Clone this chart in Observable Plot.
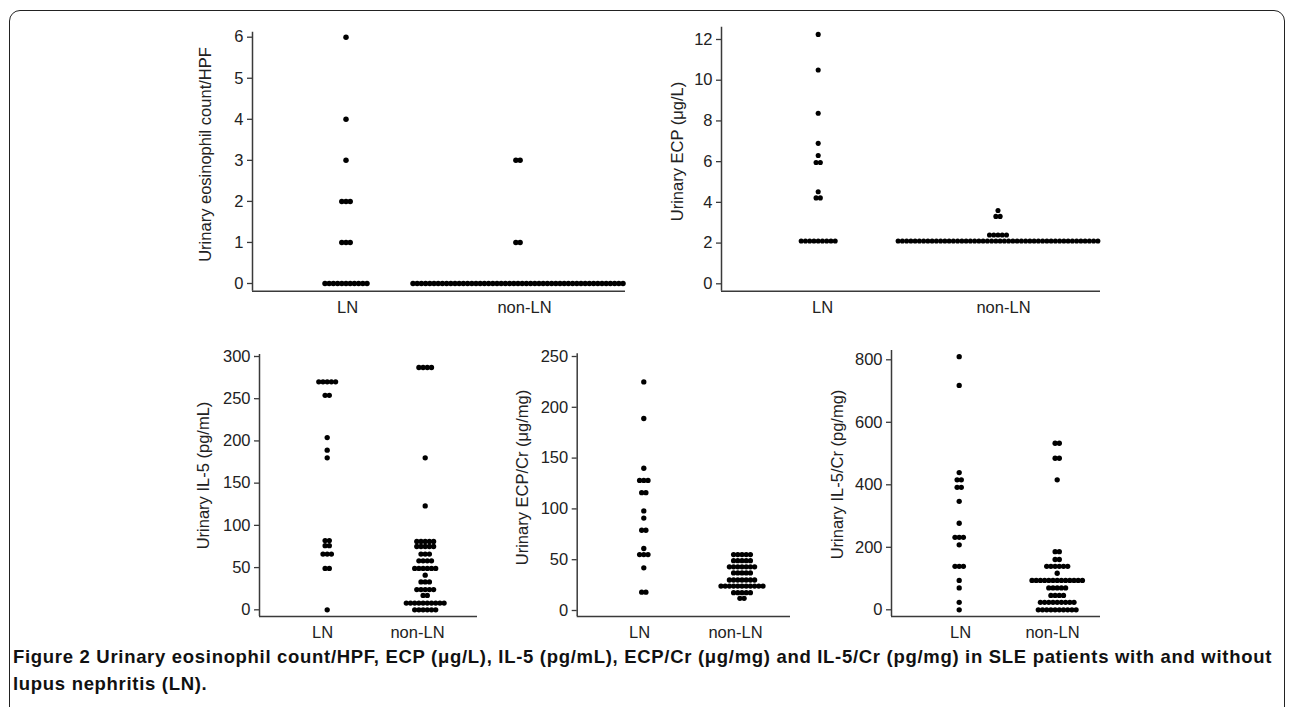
<!DOCTYPE html>
<html><head><meta charset="utf-8">
<script src="https://cdn.jsdelivr.net/npm/d3@7"></script>
<script src="https://cdn.jsdelivr.net/npm/@observablehq/plot@0.6"></script>
<style>
body{margin:0;background:#fff;}
#wrap{position:relative;width:1292px;height:707px;overflow:hidden;font-family:"Liberation Sans",Arial,sans-serif;}
#border{position:absolute;left:9px;top:10px;width:1276px;height:730px;border:1.6px solid #222;border-radius:11px;box-sizing:border-box;}
.panel{position:absolute;}
.panel svg{overflow:visible;}
#caption{position:absolute;left:13px;top:643px;font-weight:bold;font-size:18.5px;line-height:27px;color:#111;white-space:nowrap;}
</style></head><body>
<div id="wrap">
<div id="border"></div>
<div id="p1" class="panel"></div>
<div id="p2" class="panel"></div>
<div id="p3" class="panel"></div>
<div id="p4" class="panel"></div>
<div id="p5" class="panel"></div>
<div id="caption"><span id="cap1">Figure 2 Urinary eosinophil count/HPF, ECP (μg/L), IL-5 (pg/mL), ECP/Cr (μg/mg) and IL-5/Cr (pg/mg) in SLE patients with and without</span><br><span id="cap2">lupus nephritis (LN).</span></div>
</div>
<script>
// ---- Data (values and number of patients at each value) ----
const groups = ["LN", "non-LN"];

// Urinary eosinophil count/HPF
const eosLNValues  = [6, 4, 3, 2, 1, 0];
const eosLNCounts  = [1, 1, 1, 3, 3, 11];
const eosNonValues = [3, 1, 0];
const eosNonCounts = [2, 2, 51];
const eosTicks = [0, 1, 2, 3, 4, 5, 6];

// Urinary ECP (μg/L)
const ecpLNValues  = [12.25, 10.5, 8.38, 6.9, 6.3, 5.96, 4.52, 4.22, 2.1];
const ecpLNCounts  = [1, 1, 1, 1, 1, 2, 1, 2, 9];
const ecpNonValues = [3.6, 3.31, 2.4, 2.1];
const ecpNonCounts = [1, 2, 5, 48];
const ecpTicks = [0, 2, 4, 6, 8, 10, 12];

// Urinary IL-5 (pg/mL)
const il5LNValues  = [270, 254, 204, 189, 180, 82, 76, 66, 49, 0];
const il5LNCounts  = [5, 2, 1, 1, 1, 2, 2, 3, 2, 1];
const il5NonValues = [287, 180, 123, 81, 75, 66, 58, 49, 41, 33, 24, 17, 8, 0];
const il5NonCounts = [4, 1, 1, 5, 5, 3, 4, 6, 1, 3, 5, 2, 10, 6];
const il5Ticks = [0, 50, 100, 150, 200, 250, 300];

// Urinary ECP/Cr (μg/mg)
const ecpCrLNValues  = [225, 189, 140, 128, 116, 98, 91, 79, 61, 55, 42, 18];
const ecpCrLNCounts  = [1, 1, 1, 3, 2, 1, 1, 2, 1, 3, 1, 2];
const ecpCrNonValues = [55, 49, 43, 37, 30, 24, 17.5, 12];
const ecpCrNonCounts = [5, 5, 7, 5, 7, 11, 5, 2];
const ecpCrTicks = [0, 50, 100, 150, 200, 250];

// Urinary IL-5/Cr (pg/mg)
const il5CrLNValues  = [810, 718, 439, 416, 392, 347, 277, 232, 208, 139, 94, 70, 24, 0];
const il5CrLNCounts  = [1, 1, 1, 2, 2, 1, 1, 3, 1, 3, 1, 1, 1, 1];
const il5CrNonValues = [533, 485, 416, 186, 161, 139, 117, 94, 70, 46, 24, 0];
const il5CrNonCounts = [2, 2, 1, 2, 2, 6, 1, 13, 5, 4, 9, 10];
const il5CrTicks = [0, 200, 400, 600, 800];

// ---- Layout (page pixel geometry of each panel) ----
const panels = [
  {id:"p1", left:150, top:20, width:490, height:310, frame:{left:252, top:31.7, bottom:290.7, right:625},
   zeroPx:283, topTickPx:36.7, ticks:eosTicks, label:"Urinary eosinophil count/HPF",
   centers:[345.5, 517.5], labelPos:[347, 524], step:4.2, r:2.75, labelX:205, labelY:154,
   data:[[eosLNValues, eosLNCounts],[eosNonValues, eosNonCounts]]},
  {id:"p2", left:640, top:20, width:470, height:310, frame:{left:721, top:26.7, bottom:290.7, right:1100},
   zeroPx:283.3, topTickPx:39, ticks:ecpTicks, label:"Urinary ECP (μg/L)",
   centers:[817.7, 997.5], labelPos:[822, 1003], step:4.25, r:2.55, labelX:677, labelY:151,
   data:[[ecpLNValues, ecpLNCounts],[ecpNonValues, ecpNonCounts]]},
  {id:"p3", left:150, top:340, width:340, height:310, frame:{left:259, top:354, bottom:616, right:477},
   zeroPx:609.3, topTickPx:356, ticks:il5Ticks, label:"Urinary IL-5 (pg/mL)",
   centers:[326.7, 424.7], labelPos:[322, 417], step:4.2, r:2.65, labelX:203.5, labelY:475,
   data:[[il5LNValues, il5LNCounts],[il5NonValues, il5NonCounts]]},
  {id:"p4", left:490, top:340, width:310, height:310, frame:{left:576.7, top:353.3, bottom:616, right:790},
   zeroPx:610, topTickPx:356, ticks:ecpCrTicks, label:"Urinary ECP/Cr (μg/mg)",
   centers:[643.3, 741.5], labelPos:[639, 735], step:4.2, r:2.65, labelX:522, labelY:477,
   data:[[ecpCrLNValues, ecpCrLNCounts],[ecpCrNonValues, ecpCrNonCounts]]},
  {id:"p5", left:800, top:340, width:310, height:310, frame:{left:891, top:350, bottom:616, right:1100},
   zeroPx:609.3, topTickPx:359.3, ticks:il5CrTicks, label:"Urinary IL-5/Cr (pg/mg)",
   centers:[958.7, 1056.7], labelPos:[960, 1052], step:4.2, r:2.65, labelX:837, labelY:474,
   data:[[il5CrLNValues, il5CrLNCounts],[il5CrNonValues, il5CrNonCounts]]}
];

const axisColor = "#3a3a3a";
const textColor = "#222";
const fontSize = 16.5;

for (const p of panels) {
  const f = p.frame;
  const topTick = p.ticks[p.ticks.length - 1];
  const k = (p.zeroPx - p.topTickPx) / topTick;
  const yMin = -(f.bottom - p.zeroPx) / k;
  const yMax = topTick + (p.topTickPx - f.top) / k;
  const W = f.right - f.left;
  // dot-plot layout: dots sharing a value sit in a centred row
  const points = [];
  p.data.forEach(([vals, counts], g) => {
    const c = p.centers[g] - f.left;
    vals.forEach((v, i) => {
      const n = counts[i];
      for (let j = 0; j < n; j++) points.push({group: groups[g], y: v, x: c + (j - (n - 1) / 2) * p.step});
    });
  });
  const lab = new Map(p.labelPos.map((d, i) => [d - f.left, groups[i]]));
  const chart = Plot.plot({
    width: p.width, height: p.height,
    marginLeft: f.left - p.left, marginRight: p.left + p.width - f.right,
    marginTop: f.top - p.top, marginBottom: p.top + p.height - f.bottom,
    style: {background: "transparent", color: textColor, fontFamily: '"Liberation Sans", Arial, sans-serif', fontSize: fontSize + "px", overflow: "visible"},
    x: {domain: [0, W]},
    y: {domain: [yMin, yMax]},
    marks: [
      Plot.ruleY([yMin], {stroke: axisColor, strokeWidth: 1.5}),
      Plot.ruleX([0], {stroke: axisColor, strokeWidth: 1.5}),
      Plot.axisY({ticks: p.ticks, tickFormat: d => String(d), tickSize: 5, tickPadding: 4, label: null, stroke: axisColor, strokeWidth: 1.3, fontSize}),
      Plot.axisX({ticks: [...lab.keys()], tickFormat: d => lab.get(d), tickSize: 0, tickPadding: 10, label: null, fontSize}),
      Plot.dot(points, {x: "x", y: "y", r: p.r, fill: "black"}),
      Plot.text([p.label], {frameAnchor: "left", textAnchor: "middle", rotate: -90, dx: p.labelX - f.left, dy: p.labelY - (f.top + f.bottom) / 2, fontSize, fill: textColor})
    ]
  });
  const el = document.getElementById(p.id);
  el.style.left = p.left + "px";
  el.style.top = p.top + "px";
  el.appendChild(chart);
}

// fit caption width to the reference line length
const cap1 = document.getElementById("cap1");
const w = cap1.getBoundingClientRect().width;
const target = 1259;
const nChars = cap1.textContent.length;
document.getElementById("caption").style.letterSpacing = ((target - w) / nChars) + "px";
</script>
</body></html>
